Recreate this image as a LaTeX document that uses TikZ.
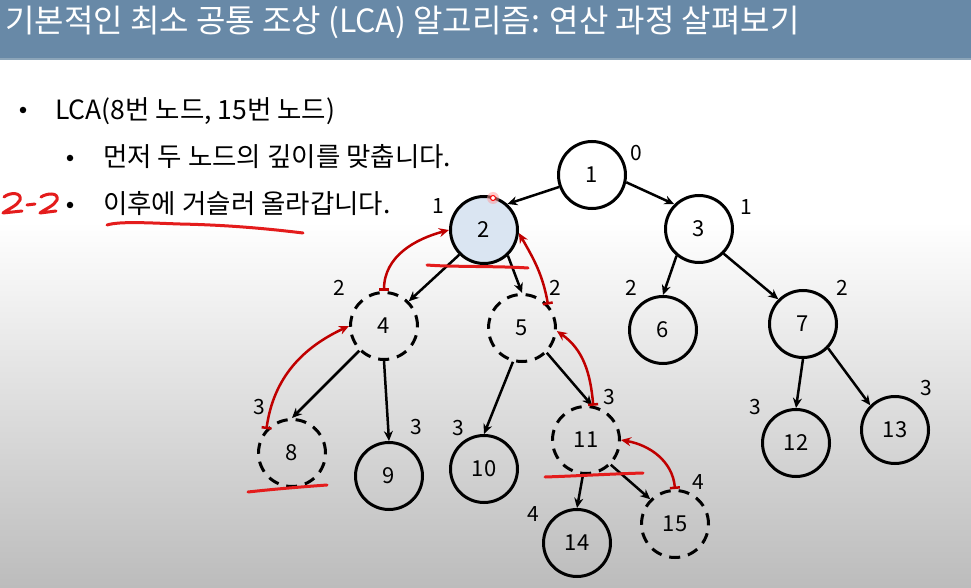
\documentclass[tikz,border=0pt]{standalone}
\usepackage{fontspec}
\setmainfont{Noto Sans CJK KR}
\usetikzlibrary{arrows.meta}
\definecolor{titlebg}{RGB}{104,137,167}
\definecolor{titleline}{RGB}{140,165,185}
\definecolor{nodefill}{RGB}{218,229,242}
\definecolor{arrred}{RGB}{192,0,0}
\definecolor{penred}{RGB}{228,28,28}
\definecolor{bottomgray}{RGB}{188,188,188}
\tikzset{
  tn/.style={circle,draw=black,line width=3pt,minimum size=67pt,inner sep=0pt,font=\fontsize{22}{26}\selectfont},
  dn/.style={tn,dash pattern=on 11pt off 8pt},
  dep/.style={font=\fontsize{21}{25}\selectfont,inner sep=0pt},
  edge/.style={line width=2.5pt,-{Stealth[length=10pt,width=9pt]}},
  redarr/.style={line width=2.5pt,draw=arrred,{Bar[width=10pt]}-{Stealth[length=10pt,width=9pt]}},
  pen/.style={draw=penred,line width=3pt,line cap=round,line join=round},
  bodytext/.style={font=\fontsize{26.5}{30}\selectfont,inner sep=0pt,anchor=base west},
  bul/.style={circle,fill=black,inner sep=0pt,minimum size=6.5pt},
}
\begin{document}
\begin{tikzpicture}[x=1pt,y=1pt]
\useasboundingbox (0,0) rectangle (971,587);
% background
\fill[white] (0,0) rectangle (971,587);
\shade[top color=white,bottom color=bottomgray] (0,0) rectangle (971,365);
% title bar
\fill[titlebg] (0,528) rectangle (971,587);
\fill[titleline] (0,527) rectangle (971,528.5);
\node[anchor=west,inner sep=0pt,text=white,font=\fontsize{32}{36}\selectfont] (title) at (5,565) {기본적인 최소 공통 조상 (LCA) 알고리즘: 연산 과정 살펴보기};
% bullets
\node[bul] (b1) at (23,477) {};
\node[bodytext] (t1) at (55,467) {LCA(8번 노드, 15번 노드)};
\node[bul] (b2) at (70,429) {};
\node[bodytext] (t2) at (103,420) {먼저 두 노드의 깊이를 맞춥니다.};
\node[bul] (b3) at (70,382) {};
\node[bodytext] (t3) at (103,373) {이후에 거슬러 올라갑니다.};
% tree nodes
\node[tn] (n1) at (592,412) {1};
\node[tn,fill=nodefill] (n2) at (484,357) {2};
\node[tn] (n3) at (699,358) {3};
\node[dn] (n4) at (384,261) {4};
\node[dn] (n5) at (522,259) {5};
\node[tn] (n6) at (663,257) {6};
\node[tn] (n7) at (803,263) {7};
\node[dn] (n8) at (292,134) {8};
\node[tn] (n9) at (389,111) {9};
\node[tn] (n10) at (484,118) {10};
\node[dn] (n11) at (586,147) {11};
\node[tn] (n12) at (796,144) {12};
\node[tn] (n13) at (895,157) {13};
\node[tn] (n14) at (577,44) {14};
\node[dn] (n15) at (675,63) {15};
% depth labels
\node[dep] (d1) at (636,434) {0};
\node[dep] (d2) at (438,381) {1};
\node[dep] (d3) at (746,380) {1};
\node[dep] (d4) at (339,299) {2};
\node[dep] (d5) at (555,299) {2};
\node[dep] (d6) at (631,299) {2};
\node[dep] (d7) at (842,299) {2};
\node[dep] (d8) at (259,180) {3};
\node[dep] (d9) at (416,160) {3};
\node[dep] (d10) at (458,159) {3};
\node[dep] (d11) at (609,190) {3};
\node[dep] (d12) at (755,180) {3};
\node[dep] (d13) at (926,199) {3};
\node[dep] (d14) at (533,73) {4};
\node[dep] (d15) at (698,105) {4};
% tree edges
\draw[edge] (n1.-160) -- (n2.48);
\draw[edge] (n1.-12) -- (n3.135);
\draw[edge] (n2.-135) -- (n4.45);
\draw[edge] (n2.-47) -- (n5.north);
\draw[edge] (n3.-130) -- (n6.north);
\draw[edge] (n3.-45) -- (n7.135);
\draw[edge] (n4.-135) -- (n8.north);
\draw[edge] (n4.-90) -- (n9.north);
\draw[edge] (n5.-105) -- (n10.north);
\draw[edge] (n5.-45) -- (n11.80);
\draw[edge] (n7.-90) -- (n12.north);
\draw[edge] (n7.-44) -- (n13.135);
\draw[edge] (n11.-95) -- (n14.north);
\draw[edge] (n11.-45) -- (n15.135);
% red climbing arrows
\draw[redarr] (n8.137) to[out=82,in=205] (n4.180);
\draw[redarr] (n4.north) to[out=90,in=195] (n2.180);
\draw[redarr] (n5.42) to[out=100,in=-60] (n2.-5);
\draw[redarr] (n11.78) to[out=95,in=-35] (n5.-5);
\draw[redarr] (n15.north) to[out=95,in=-10] (n11.0);
% handwritten annotations
\draw[pen] (4,390) .. controls (10,395) and (22,395) .. (20,387) .. controls (17,381) and (8,378) .. (3,374) -- (22,376);
\draw[pen] (27,382) -- (35,383);
\draw[pen] (41,390) .. controls (47,394) and (59,395) .. (57,387) .. controls (54,381) and (45,378) .. (40,374) -- (56,376);
\draw[pen] (107,362) .. controls (120,366) and (150,364) .. (180,363) .. controls (230,362) and (270,358) .. (303,354);
\draw[pen] (427,322) .. controls (450,320) and (500,321) .. (528,319);
\draw[pen] (248,95) .. controls (275,98) and (300,100) .. (327,102);
\draw[pen] (545,110) .. controls (575,111) and (610,113) .. (643,114);
% cursor mark
\fill[red!40,opacity=0.5] (493,389) circle (6);
\draw[red,line width=1pt,fill=white] (493,389) circle (2.5);
\end{tikzpicture}
\end{document}
